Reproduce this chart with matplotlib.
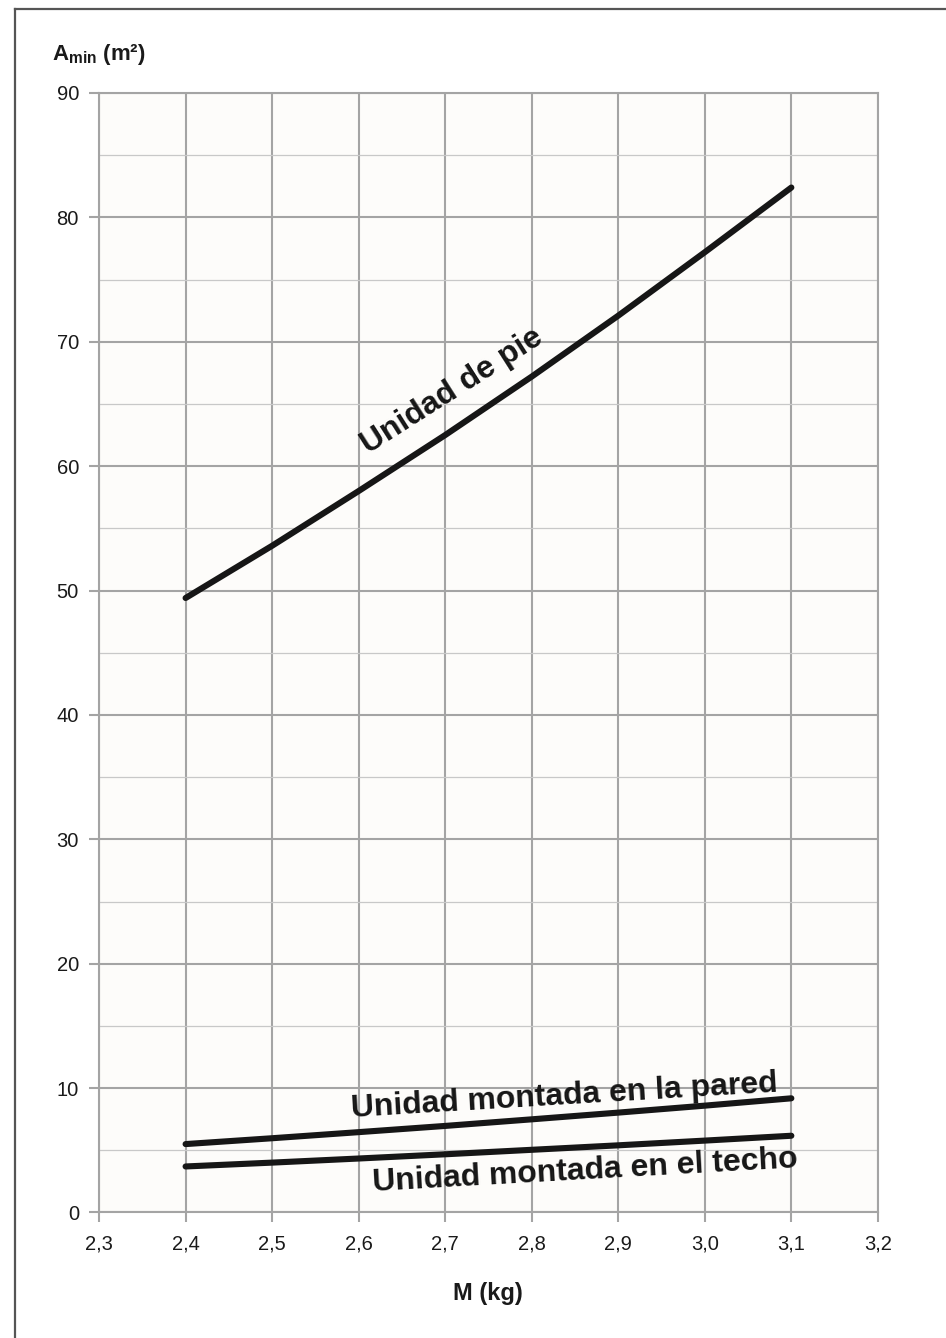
import matplotlib.pyplot as plt
from matplotlib.lines import Line2D

plt.rcParams['font.family'] = ['Liberation Sans', 'DejaVu Sans']
plt.rcParams['mathtext.fontset'] = 'custom'
plt.rcParams['mathtext.rm'] = 'Liberation Sans'
plt.rcParams['mathtext.bf'] = 'Liberation Sans:bold'

# Refrigerant charge M (kg) vs minimum room area A_min (m²)
masa = [2.4, 2.5, 2.6, 2.7, 2.8, 2.9, 3.0, 3.1]
area_pie = [49.4, 53.6, 58.0, 62.5, 67.2, 72.1, 77.2, 82.4]
area_pared = [5.5, 5.97, 6.46, 6.96, 7.49, 8.03, 8.59, 9.18]
area_techo = [3.7, 4.01, 4.34, 4.68, 5.04, 5.40, 5.78, 6.17]

x_ticks = [2.3, 2.4, 2.5, 2.6, 2.7, 2.8, 2.9, 3.0, 3.1, 3.2]
x_labels = ['2,3', '2,4', '2,5', '2,6', '2,7', '2,8', '2,9', '3,0', '3,1', '3,2']
y_ticks = [0, 10, 20, 30, 40, 50, 60, 70, 80, 90]
y_minor = [5, 15, 25, 35, 45, 55, 65, 75, 85]

grid_col = '#a4a4a4'

fig = plt.figure(figsize=(9.46, 13.38), dpi=100)
ax = fig.add_axes([0.1047, 0.0938, 0.8233, 0.8367])
ax.set_facecolor('#fdfcfa')

ax.set_xlim(2.3, 3.2)
ax.set_ylim(0, 90)
ax.set_xticks(x_ticks)
ax.set_xticklabels(x_labels)
ax.set_yticks(y_ticks)
ax.set_yticks(y_minor, minor=True)

ax.grid(True, which='major', color=grid_col, lw=1.5, zorder=0)
ax.grid(True, which='minor', axis='y', color='#c8c8c8', lw=0.9, zorder=0)
ax.set_axisbelow(True)
for s in ax.spines.values():
    s.set_color(grid_col)
    s.set_linewidth(1.5)

ax.tick_params(which='major', length=7.5, width=1.5, color=grid_col,
               labelsize=14.5, labelcolor='#1a1a1a')
ax.tick_params(axis='x', pad=8)
ax.tick_params(axis='y', pad=7)
ax.tick_params(which='minor', length=0)

line_kw = dict(color='#161616', lw=4.4, solid_capstyle='round', zorder=3)
ax.plot(masa, area_pie, **line_kw)
ax.plot(masa, area_pared, **line_kw)
ax.plot(masa, area_techo, **line_kw)

lbl_kw = dict(fontsize=23, fontweight='bold', color='#161616',
              ha='left', va='baseline', rotation_mode='anchor', zorder=4)
ax.text(2.611, 61.0, 'Unidad de pie', rotation=32.5, **lbl_kw)
ax.text(2.592, 7.7, 'Unidad montada en la pared', rotation=3.4, **lbl_kw)
ax.text(2.616, 1.75, 'Unidad montada en el techo', rotation=3.2, **lbl_kw)

# axis titles
fig.text(52 / 946, 1 - 60 / 1338, r'$\mathbf{A}_{\mathbf{min}}$ (m²)',
         fontsize=16, fontweight='bold', ha='left', va='baseline', color='#1a1a1a')
fig.text(488 / 946, 1 - 1300 / 1338, 'M (kg)', fontsize=17, fontweight='bold',
         ha='center', va='baseline', color='#1a1a1a')

# frame lines on the top and left of the page
fig.add_artist(Line2D([15 / 946, 15 / 946], [1 - 9 / 1338, 0],
                      transform=fig.transFigure, color='#555555', lw=1.6))
fig.add_artist(Line2D([15 / 946, 1], [1 - 9 / 1338, 1 - 9 / 1338],
                      transform=fig.transFigure, color='#555555', lw=1.6))

fig.savefig('out.png', dpi=100)
